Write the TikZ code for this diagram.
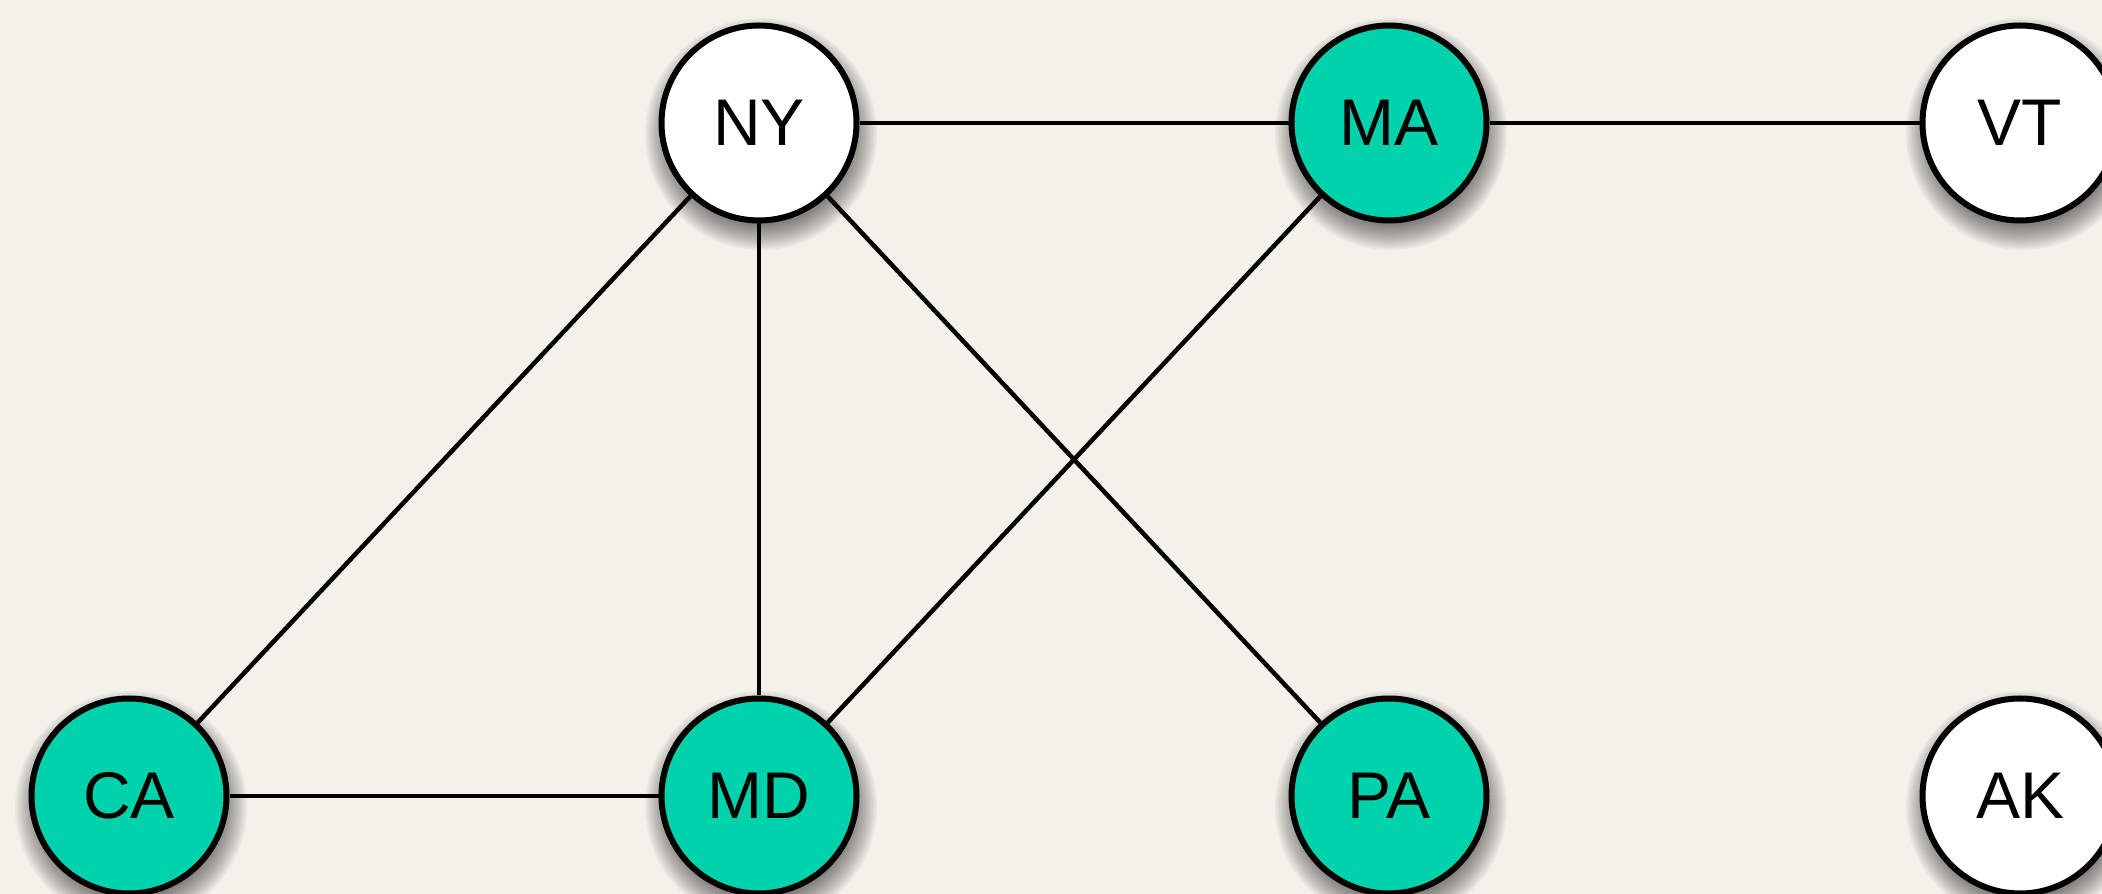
\documentclass[tikz,border=0pt]{standalone}
\usepackage{fontspec}
\setmainfont{Liberation Sans}
\definecolor{paper}{RGB}{244,241,235}
\definecolor{teal}{RGB}{0,210,172}
\pgfdeclarelayer{paperlayer}
\pgfdeclarelayer{shadowlayer}
\pgfsetlayers{paperlayer,shadowlayer,main}
\tikzset{
  state/.style={circle, draw=black, line width=6pt, minimum size=195pt, inner sep=0pt,
    font=\fontsize{66}{78}\selectfont},
  plain/.style={state, fill=white},
  picked/.style={state, fill=teal},
  link/.style={line width=4.5pt, black},
  softshade/.style={fill=black, opacity=0.045}
}
\begin{document}
\begin{tikzpicture}[x=1pt, y=1pt]
  \begin{pgfonlayer}{paperlayer}
    \fill[paper] (0,0) rectangle (2102,894);
  \end{pgfonlayer}
  \useasboundingbox (0,0) rectangle (2102,894);
  % nodes (y measured upward from the bottom edge)
  \node[plain]  (NY) at (759,771)  {NY};
  \node[picked] (MA) at (1389,771) {MA};
  \node[plain]  (VT) at (2020,771) {VT};
  \node[picked] (CA) at (129,98)   {CA};
  \node[picked] (MD) at (759,98)   {MD};
  \node[picked] (PA) at (1389,98)  {PA};
  \node[plain]  (AK) at (2020,98)  {AK};
  % soft drop shadows: stacked translucent discs below each node
  \begin{pgfonlayer}{shadowlayer}
    \foreach \n in {NY,MA,VT,CA,MD,PA,AK}
      \foreach \i in {0,...,15}
        \fill[softshade] ([xshift=2pt, yshift=-11pt]\n.center) circle ({116-2*\i});
  \end{pgfonlayer}
  % edges
  \draw[link] (NY) -- (MA);
  \draw[link] (MA) -- (VT);
  \draw[link] (NY) -- (CA);
  \draw[link] (NY) -- (MD);
  \draw[link] (NY) -- (PA);
  \draw[link] (MA) -- (MD);
  \draw[link] (CA) -- (MD);
\end{tikzpicture}
\end{document}
